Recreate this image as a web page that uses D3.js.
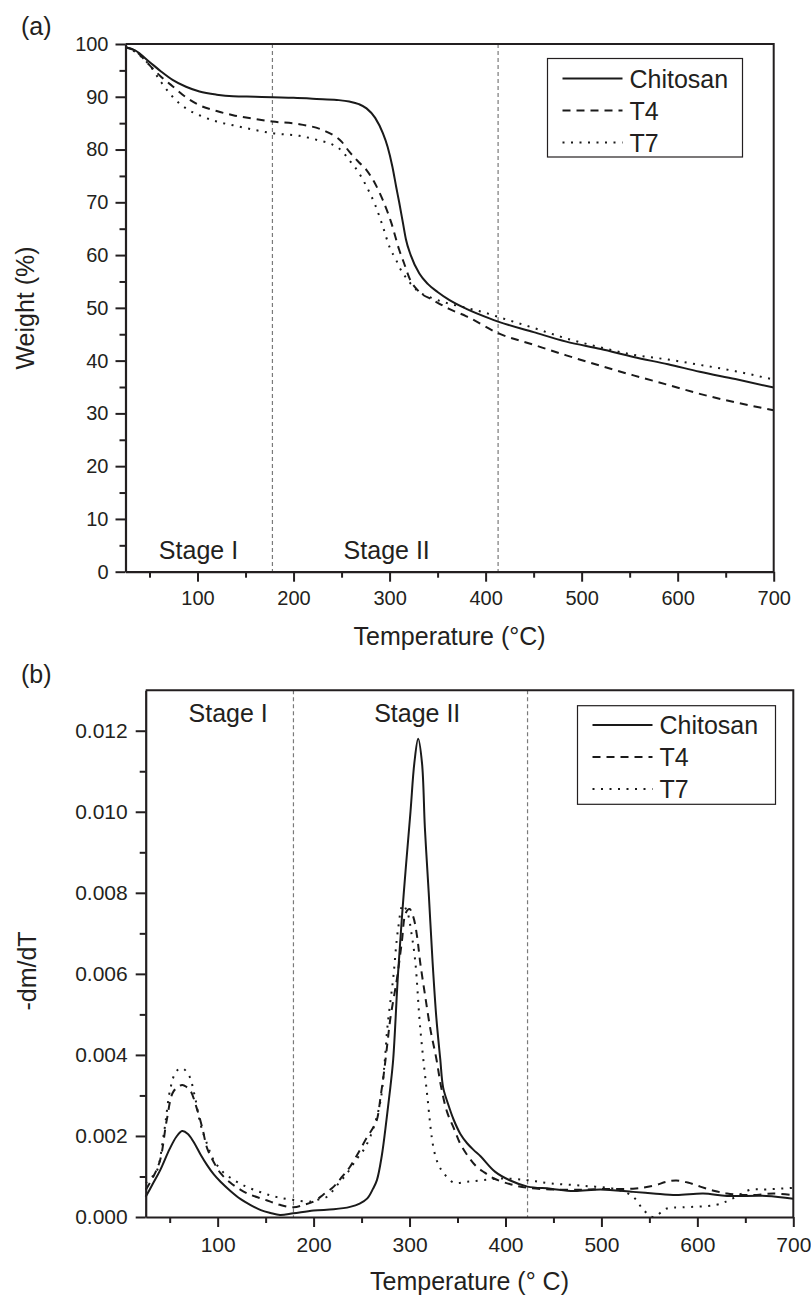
<!DOCTYPE html>
<html><head><meta charset="utf-8">
<script src="https://cdn.jsdelivr.net/npm/d3@7"></script>
<style>
body{margin:0;background:#fff}
text{font-family:"Liberation Sans",Arial,Helvetica,sans-serif;fill:#231f20}
</style>
</head><body>
<svg id="c" width="811" height="1296"></svg>
<script>
// ---------------- DATA ----------------
const seriesNames = ["Chitosan", "T4", "T7"];

// Panel (a): TGA weight (%) vs temperature (°C)
const tgaChitosanT = [25,35,50,62,74,88,102,120,137,160,178,200,224,245,258,268,276,285,293,298,303,307,310,314,317,322,331,340,350,362,380,404,413,450,484,520,554,590,623,660,700];
const tgaChitosanW = [99.4,98.8,96.6,94.8,93.2,91.9,91.0,90.4,90.1,90.0,89.9,89.8,89.6,89.4,89.1,88.6,87.8,86.0,83.1,80.5,76.7,72.8,70.0,66.0,63.0,60.0,56.5,54.5,53.0,51.5,49.8,48.0,47.4,45.4,43.6,42.2,40.7,39.3,37.9,36.5,34.9];
const tgaT4T = [25,35,50,62,74,88,102,120,137,160,178,206,234,250,258,268,276,285,293,302,310,315,321,330,345,362,380,413,450,484,520,554,590,623,660,700];
const tgaT4W = [99.4,98.7,96.0,93.8,92.0,89.9,88.4,87.3,86.5,85.8,85.3,84.8,83.4,81.5,79.6,77.6,76.1,73.5,70.4,66.0,61.0,58.5,55.5,53.2,51.5,49.8,48.4,45.2,43.0,41.0,39.0,37.2,35.4,33.7,32.1,30.6];
const tgaT7T = [25,35,50,62,74,88,102,120,137,160,178,206,225,241,250,258,268,276,285,293,300,307,310,318,328,345,362,380,408,413,450,484,520,554,590,623,660,700];
const tgaT7W = [99.4,98.5,96.0,92.8,90.0,87.8,86.5,85.3,84.6,83.7,83.1,82.6,81.8,80.9,79.8,78.0,75.6,73.0,69.5,65.4,61.5,59.0,57.8,55.5,53.4,51.8,50.8,50.0,48.6,48.3,46.2,44.2,42.5,41.1,40.2,39.2,38.0,36.4];

// Panel (b): DTG -dm/dT vs temperature (°C)
const dtgChitosanT = [25,32,40,50,57,63,69,75,82,89,96,103,113,124,134,145,155,165,179,200,221,238,248,256,262,266,271,276,280,283,288,294,301,305,309,313,316,320,324,328,332,335,340,346,353,360,367,374,389,405,423,447,471,499,533,554,578,606,631,672,700];
const dtgChitosanV = [0.0005,0.0008,0.00115,0.00168,0.00198,0.00212,0.00205,0.00185,0.00155,0.00128,0.00105,0.00087,0.00065,0.00044,0.0003,0.00017,0.0001,0.00005,0.00009,0.00016,0.00019,0.00025,0.00033,0.00046,0.0007,0.00091,0.0015,0.0024,0.0032,0.0039,0.006,0.008,0.0100,0.0112,0.0118,0.0112,0.0096,0.0080,0.0063,0.0049,0.0039,0.0032,0.0028,0.0024,0.00205,0.00182,0.00165,0.0015,0.00112,0.0009,0.00075,0.0007,0.00064,0.00068,0.00062,0.00058,0.00054,0.00058,0.00052,0.00052,0.00045];
const dtgT4T = [25,33,40,47,54,63,68,72,78,84,89,96,103,113,124,134,145,155,165,179,190,200,210,221,230,238,247,256,262,266,270,273,277,280,287,292,296,300,304,308,311,316,322,328,333,339,346,353,361,370,378,388,405,423,447,471,499,533,554,568,578,590,603,617,631,655,680,700];
const dtgT4V = [0.00067,0.001,0.0014,0.0024,0.0031,0.00326,0.0032,0.0031,0.0027,0.0022,0.0017,0.00135,0.00108,0.00085,0.00067,0.00055,0.00046,0.00038,0.0003,0.00024,0.0003,0.00038,0.00055,0.00075,0.001,0.00124,0.0016,0.00198,0.0022,0.0024,0.003,0.0035,0.0043,0.0049,0.0059,0.0068,0.0075,0.0076,0.0074,0.0069,0.0063,0.0055,0.0046,0.0039,0.0032,0.0026,0.0022,0.0018,0.0015,0.00124,0.0011,0.00095,0.00081,0.00072,0.00068,0.00067,0.00069,0.0007,0.00077,0.00087,0.0009,0.00085,0.00075,0.00065,0.00058,0.00054,0.00058,0.00054];
const dtgT7T = [25,32,37,44,51,57,63,70,76,82,89,96,106,117,127,138,150,162,179,197,205,214,225,235,244,252,259,265,270,274,277,283,288,293,298,302,306,311,318,325,330,335,346,360,377,395,422,447,481,516,533,544,554,568,585,620,637,655,672,700];
const dtgT7V = [0.00084,0.001,0.00116,0.00207,0.0032,0.0036,0.00367,0.0035,0.003,0.0023,0.0018,0.0014,0.0011,0.00091,0.00078,0.00067,0.00057,0.00049,0.00042,0.00038,0.00043,0.0005,0.0008,0.00108,0.0014,0.00165,0.00198,0.0024,0.0029,0.0038,0.0047,0.0059,0.0071,0.0077,0.0075,0.007,0.0063,0.0047,0.0031,0.0017,0.0013,0.0011,0.00085,0.00087,0.00091,0.00095,0.00091,0.00083,0.00077,0.00068,0.0005,0.00017,0.0,0.00021,0.00024,0.0003,0.00046,0.00067,0.00068,0.00072];

// Axis ticks and labels
const tempTicks = [100,200,300,400,500,600,700];
const tempMinorTicks = [50,150,250,350,450,550,650];
const weightTicks = [0,10,20,30,40,50,60,70,80,90,100];
const weightMinorTicks = [5,15,25,35,45,55,65,75,85,95];
const dtgTicks = [0,0.002,0.004,0.006,0.008,0.010,0.012];
const dtgTickLabels = ["0.000","0.002","0.004","0.006","0.008","0.010","0.012"];
const dtgMinorTicks = [0.001,0.003,0.005,0.007,0.009,0.011];

// Stage boundaries (°C) and labels
const stageBoundsA = [178, 413];
const stageBoundsB = [179, 423];
const stageLabels = ["Stage I", "Stage II"];
const stageLabelTempA = [101, 297];   // label centres (°C)
const stageLabelTempB = [111, 308];

// ---------------- DRAWING ----------------
const svg = d3.select("#c");
const ink = "#231f20";
const dashes = [null, "8,6", "2,6.5"];

function drawPanel(o) {
  const g = svg.append("g");
  const x = o.x, y = o.y;
  const [x0, x1] = x.range(), [y0, y1] = y.range();

  // stage separators
  g.selectAll(".sep").data(o.bounds).join("line")
    .attr("x1", d => x(d)).attr("x2", d => x(d))
    .attr("y1", y1).attr("y2", y0)
    .attr("stroke", "#7a7a7a").attr("stroke-width", 1.2).attr("stroke-dasharray", "4,3");

  // curves
  const line = d3.line().x(d => x(d[0])).y(d => y(d[1])).curve(o.curve);
  o.series.forEach((s, i) => {
    const pts = s.t.map((t, k) => [t, s.v[k]]);
    g.append("path").datum(pts).attr("d", line)
      .attr("fill", "none").attr("stroke", "#1a1a1a").attr("stroke-width", 2)
      .attr("stroke-dasharray", dashes[i]);
  });

  // frame (top + right)
  g.append("path").attr("d", `M${x0},${y1}H${x1}V${y0}`)
    .attr("fill", "none").attr("stroke", ink).attr("stroke-width", 2);

  // axes
  const styleAxis = (sel, fs) => {
    sel.selectAll("path.domain").attr("stroke", ink).attr("stroke-width", 2.2);
    sel.selectAll(".tick line").attr("stroke", ink).attr("stroke-width", 2);
    sel.selectAll("text").attr("font-size", fs).attr("font-family", '"Liberation Sans", Arial, sans-serif').attr("fill", ink);
  };
  const gx = g.append("g").attr("transform", `translate(0,${y0})`)
    .call(d3.axisBottom(x).tickValues(tempTicks).tickSize(10).tickPadding(o.xPad).tickSizeOuter(0).tickFormat(d => d));
  styleAxis(gx, o.tickFs);
  const gxm = g.append("g").attr("transform", `translate(0,${y0})`)
    .call(d3.axisBottom(x).tickValues(tempMinorTicks).tickSize(6).tickFormat(""));
  gxm.select(".domain").remove(); styleAxis(gxm, o.tickFs);

  const gy = g.append("g").attr("transform", `translate(${x0},0)`)
    .call(d3.axisLeft(y).tickValues(o.yTicks).tickSize(10).tickPadding(o.yPad).tickSizeOuter(0)
      .tickFormat((d, i) => o.yLabels[i]));
  styleAxis(gy, o.tickFs);
  const gym = g.append("g").attr("transform", `translate(${x0},0)`)
    .call(d3.axisLeft(y).tickValues(o.yMinor).tickSize(6).tickFormat(""));
  gym.select(".domain").remove(); styleAxis(gym, o.tickFs);

  // stage labels
  g.selectAll(".stage").data(stageLabels).join("text")
    .attr("x", (d, i) => x(o.stageT[i])).attr("y", o.stageY)
    .attr("text-anchor", "middle").attr("font-size", 25).text(d => d);

  // axis titles
  g.append("text").attr("x", (x0 + x1) / 2).attr("y", o.xTitleY)
    .attr("text-anchor", "middle").attr("font-size", 25).text(o.xTitle);
  g.append("text").attr("transform", `translate(${o.yTitleX},${o.yTitleCY}) rotate(-90)`)
    .attr("text-anchor", "middle").attr("font-size", 25).text(o.yTitle);

  // panel tag
  g.append("text").attr("x", 21).attr("y", o.tagY).attr("font-size", 25).text(o.tag);

  // legend
  const L = o.legend;
  g.append("rect").attr("x", L.x).attr("y", L.y).attr("width", L.w).attr("height", L.h)
    .attr("fill", "#fff").attr("stroke", ink).attr("stroke-width", 1.2);
  seriesNames.forEach((n, i) => {
    const ly = L.y + L.first + i * L.step;
    g.append("line").attr("x1", L.x + 15).attr("x2", L.x + 75).attr("y1", ly).attr("y2", ly)
      .attr("stroke", "#1a1a1a").attr("stroke-width", 2).attr("stroke-dasharray", dashes[i]);
    g.append("text").attr("x", L.x + 82).attr("y", ly + 9).attr("font-size", 25).text(n);
  });
}

drawPanel({
  x: d3.scaleLinear().domain([25, 700]).range([125.5, 773.7]),
  y: d3.scaleLinear().domain([0, 100]).range([571.7, 44]),
  curve: d3.curveMonotoneX,
  series: [{t: tgaChitosanT, v: tgaChitosanW}, {t: tgaT4T, v: tgaT4W}, {t: tgaT7T, v: tgaT7W}],
  bounds: stageBoundsA,
  yTicks: weightTicks, yLabels: weightTicks.map(String), yMinor: weightMinorTicks,
  tickFs: 20, xPad: 9, yPad: 7,
  stageT: stageLabelTempA, stageY: 559,
  xTitle: "Temperature (°C)", xTitleY: 645,
  yTitle: "Weight (%)", yTitleX: 34, yTitleCY: 308,
  tag: "(a)", tagY: 35,
  legend: {x: 547.5, y: 58.5, w: 195, h: 98.5, first: 20, step: 32}
});

drawPanel({
  x: d3.scaleLinear().domain([25, 700]).range([145.7, 793.3]),
  y: d3.scaleLinear().domain([0, 0.013]).range([1217, 690.2]),
  curve: d3.curveCatmullRom.alpha(0.5),
  series: [{t: dtgChitosanT, v: dtgChitosanV}, {t: dtgT4T, v: dtgT4V}, {t: dtgT7T, v: dtgT7V}],
  bounds: stageBoundsB,
  yTicks: dtgTicks, yLabels: dtgTickLabels, yMinor: dtgMinorTicks,
  tickFs: 21, xPad: 10, yPad: 8,
  stageT: stageLabelTempB, stageY: 722,
  xTitle: "Temperature (° C)", xTitleY: 1290,
  yTitle: "-dm/dT", yTitleX: 36, yTitleCY: 971,
  tag: "(b)", tagY: 683,
  legend: {x: 577.5, y: 705.7, w: 198, h: 98.6, first: 19.3, step: 32}
});
</script>
</body></html>
